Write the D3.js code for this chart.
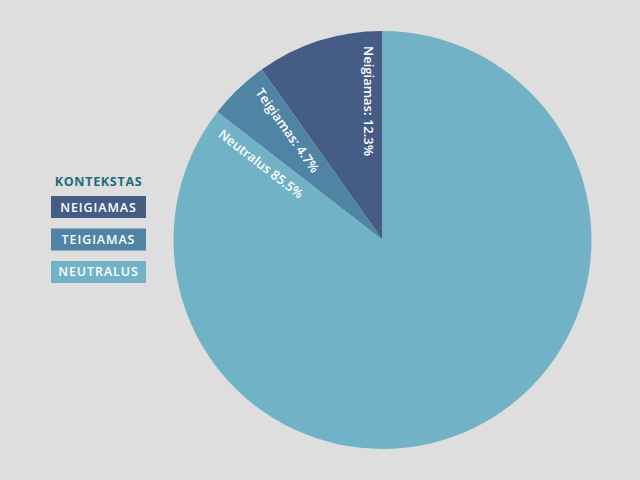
<!DOCTYPE html>
<html>
<head>
<meta charset="utf-8">
<script src="https://cdn.jsdelivr.net/npm/d3@7"></script>
<style>
  html, body { margin: 0; padding: 0; background: #dedede; }
  svg { display: block; }
</style>
</head>
<body>
<svg id="chart" width="640" height="480"></svg>
<script>
const categories = ["Neigiamas", "Teigiamas", "Neutralus"];
const legendLabels = ["NEIGIAMAS", "TEIGIAMAS", "NEUTRALUS"];
const sliceValues = [9.8, 4.7, 85.5];
const labelTexts = ["Neigiamas: 12.3%", "Teigiamas: 4.7%", "Neutralus 85.5%"];
const colors = ["#455d84", "#5084a5", "#71b2c7"];
const legendTitle = "KONTEKSTAS";

const svg = d3.select("#chart");
svg.append("rect").attr("width", 640).attr("height", 480).attr("fill", "#dedede");

const cx = 382.5, cy = 240, r = 209;
const g = svg.append("g").attr("transform", `translate(${cx},${cy})`);

const pie = d3.pie().sort(null).value(d => d.v)
  .startAngle(0).endAngle(-2 * Math.PI);
const data = categories.map((c, i) => ({ c, v: sliceValues[i], i }));
const arcs = pie(data);
const arc = d3.arc().innerRadius(0).outerRadius(r);

g.selectAll("path.slice").data(arcs).join("path")
  .attr("class", "slice")
  .attr("d", arc)
  .attr("fill", d => colors[d.data.i]);

// Labels: placed along each slice's leading edge, reading inward
g.selectAll("text.lbl").data(arcs).join("text")
  .attr("class", "lbl")
  .attr("transform", d => {
    const a = d.startAngle;
    const x = r * Math.sin(a), y = -r * Math.cos(a);
    const deg = 90 + a * 180 / Math.PI;
    return `translate(${x},${y}) rotate(${deg})`;
  })
  .attr("x", 15)
  .attr("y", 19)
  .attr("fill", "#ffffff")
  .attr("font-family", "'Open Sans', sans-serif")
  .attr("font-weight", 600)
  .attr("font-size", 13)
  .text(d => labelTexts[d.data.i]);

// Legend
const lg = svg.append("g");
lg.append("text")
  .attr("x", 98.5).attr("y", 185.5)
  .attr("text-anchor", "middle")
  .attr("fill", "#1b6d80")
  .attr("font-family", "'Open Sans', sans-serif")
  .attr("font-weight", 700)
  .attr("font-size", 12.5)
  .attr("letter-spacing", 0.7)
  .text(legendTitle);

const ly = d3.scaleBand().domain(legendLabels).range([196, 283]).paddingInner(0.323);
const items = lg.selectAll("g.item").data(legendLabels).join("g").attr("class", "item");
items.append("rect")
  .attr("x", 51).attr("width", 95)
  .attr("y", d => ly(d)).attr("height", ly.bandwidth())
  .attr("fill", (d, i) => colors[i]);
items.append("text")
  .attr("x", 98.5).attr("y", d => ly(d) + 15.5)
  .attr("text-anchor", "middle")
  .attr("fill", "#ffffff")
  .attr("font-family", "'Open Sans', sans-serif")
  .attr("font-weight", 600)
  .attr("font-size", 12.5)
  .attr("letter-spacing", 0.9)
  .text(d => d);
</script>
</body>
</html>
